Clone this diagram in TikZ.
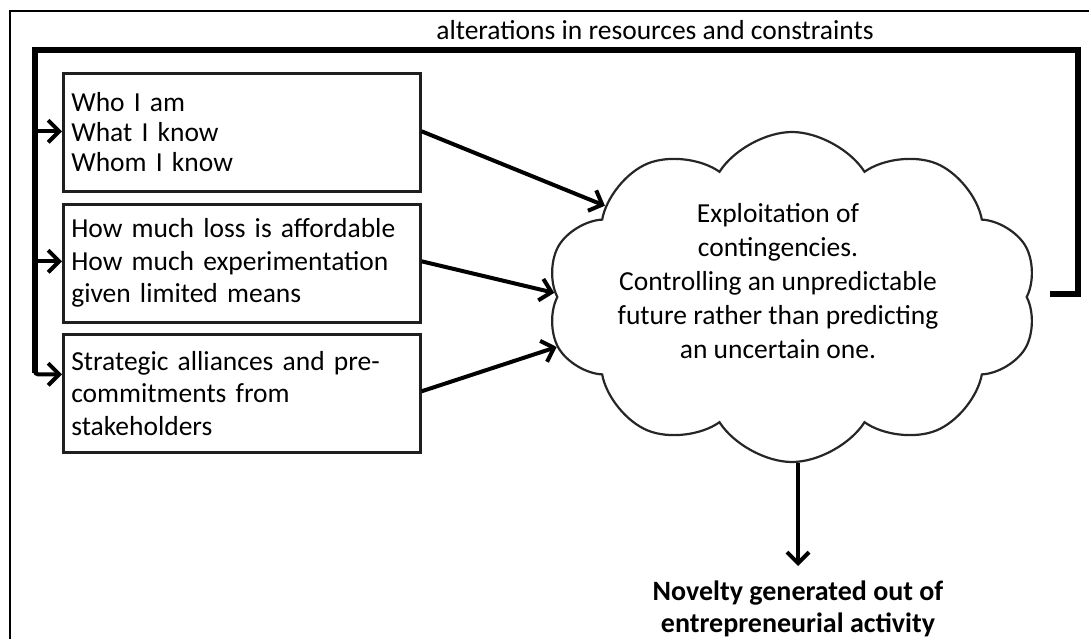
\documentclass[tikz,border=0pt]{standalone}
\usepackage{fontspec}
\setmainfont{Carlito}
\usetikzlibrary{arrows.meta,shapes.symbols,calc}
\tikzset{
  frameline/.style={line width=2.5pt, black},
  box/.style={draw=black!88, line width=2.6pt, anchor=north west, minimum width=357pt, minimum height=118pt, text width=341pt, inner xsep=8pt, align=left},
  arr/.style={line width=4pt, -{Straight Barb[length=11pt,width=22pt,line width=4pt]}},
  loopline/.style={line width=5.5pt, line join=miter},
  cloudshape/.style={cloud, draw=black!85, line width=2.2pt, cloud puffs=10, cloud puff arc=115, minimum width=491pt, minimum height=330pt, inner sep=0pt},
  lbl/.style={font=\fontsize{27.5}{30}\selectfont, align=center}
}
\begin{document}
\begin{tikzpicture}[x=1pt,y=-1pt]
\useasboundingbox (0,0) rectangle (1089,639);
% outer frame
\draw[frameline] (10,639) -- (10,11) -- (1089,11);
% top label
\node[lbl] (toplabel) at (655,30) {alterations in resources and constraints};
% boxes
\node[box, font=\fontsize{27.5}{30}\selectfont] (b1) at (62,72) {Who I am\\What I know\\Whom I know};
\node[box, font=\fontsize{27.5}{32.5}\selectfont] (b2) at (62,203) {How much loss is affordable\\How much experimentation\\given limited means};
\node[box, font=\fontsize{27.5}{32.5}\selectfont] (b3) at (62,333) {Strategic alliances and pre-\\commitments from\\stakeholders};
% cloud
\node[cloudshape] (cl) at (792,297) {};
\node[font=\fontsize{27.5}{34}\selectfont, align=center] (cltext) at (778,281) {Exploitation of\\contingencies.\\Controlling an unpredictable\\future rather than predicting\\an uncertain one.};
% result
\node[font=\bfseries\fontsize{28}{32}\selectfont, align=center, anchor=north] (nov) at (798,577) {Novelty generated out of\\entrepreneurial activity};
% arrows to cloud
\draw[arr] ($(b1.east)+(0,-1)$) -- (cl.154);
\draw[arr] ($(b2.east)+(0,-2)$) -- (cl.179);
\draw[arr] ($(b3.east)+(0,-2)$) -- (cl.192.5);
\coordinate (bottomtip) at (798,566);
\draw[arr] (cl.south -| bottomtip) -- (bottomtip);
% feedback loop
\coordinate (fbstart) at (1050,294);
\coordinate (fbright) at (1078,50);
\coordinate (fbleft) at (35,50);
\draw[loopline] (fbstart) -| (fbright) -- (fbleft) -- (35,373);
\draw[arr] ($(fbleft |- b1.west)+(0,-1)$) -- ($(b1.west)+(0,-1)$);
\draw[arr] ($(fbleft |- b2.west)+(0,-2)$) -- ($(b2.west)+(0,-2)$);
\draw[arr, rounded corners=3pt] ($(fbleft)+(0,-2.75)$) |- ($(b3.west)+(0,-19)$);
\end{tikzpicture}
\end{document}
